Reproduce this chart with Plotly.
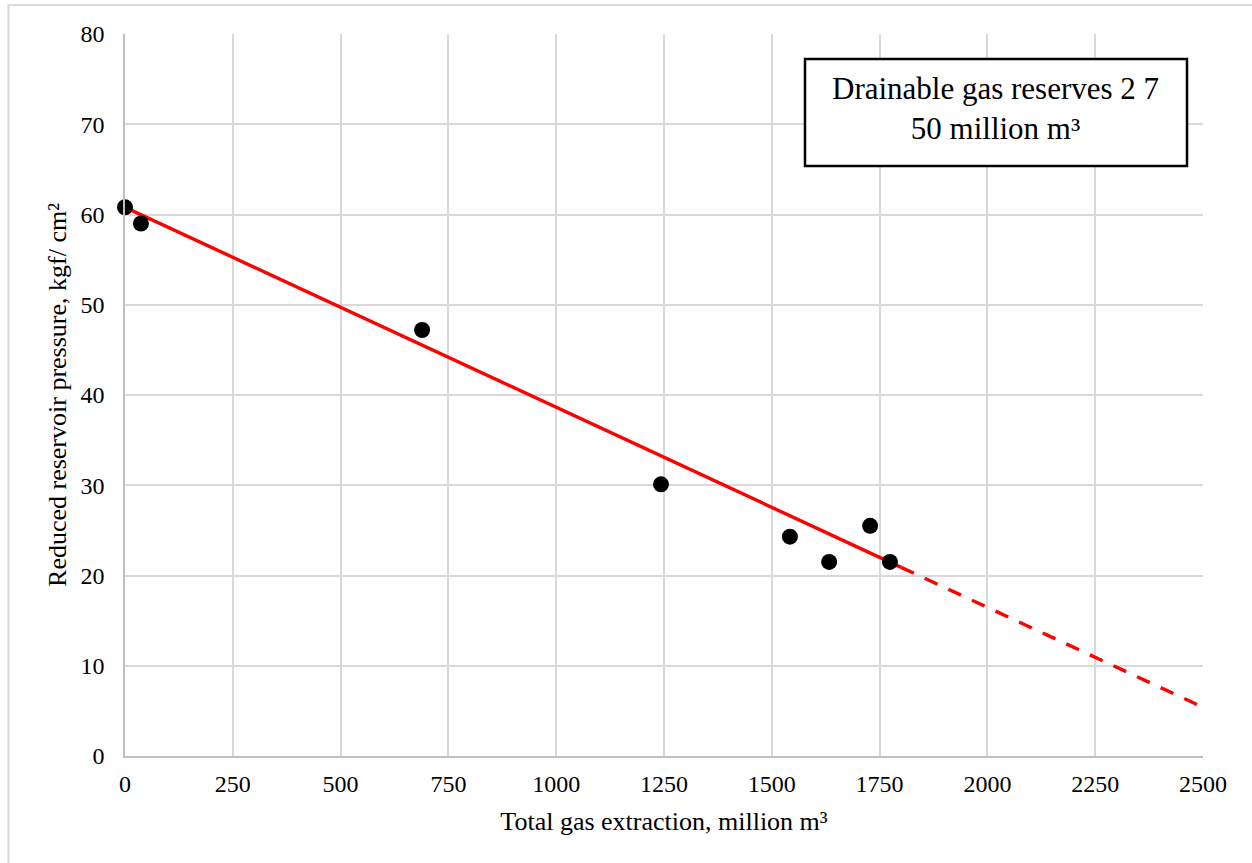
import plotly.graph_objects as go

# Observed data points
extraction = [0, 37, 689, 1243, 1542, 1633, 1728, 1774]
pressure = [60.8, 59.0, 47.2, 30.1, 24.3, 21.5, 25.5, 21.5]

# Trend line (fitted) and extrapolation endpoints
fit_x = [0, 1800]
fit_y = [60.8, 20.9]
extrap_x = [1800, 2500]
extrap_y = [20.9, 5.4]

x_ticks = [0, 250, 500, 750, 1000, 1250, 1500, 1750, 2000, 2250, 2500]
y_ticks = [0, 10, 20, 30, 40, 50, 60, 70, 80]

box_text = "Drainable gas reserves 2 7<br>50 million m³"
x_title = "Total gas extraction, million m³"
y_title = "Reduced reservoir pressure, kgf/ cm²"

FONT = "Liberation Serif, Times New Roman, serif"
W, H = 1252, 863
L, R, T, B = 125, 49, 34, 107
PW, PH = W - L - R, H - T - B

def px(x):
    return (x - L) / PW

def py(y):
    return (H - B - y) / PH

fig = go.Figure()
fig.add_trace(go.Scatter(x=fit_x, y=fit_y, mode="lines",
                         line=dict(color="#ff0000", width=3.4), showlegend=False))
fig.add_trace(go.Scatter(x=extrap_x, y=extrap_y, mode="lines",
                         line=dict(color="#ff0000", width=3.4, dash="14px,12px"), showlegend=False))
fig.add_trace(go.Scatter(x=extraction, y=pressure, mode="markers", cliponaxis=False,
                         marker=dict(color="black", size=16), showlegend=False))

fig.update_layout(
    width=W, height=H,
    margin=dict(l=L, r=R, t=T, b=B),
    plot_bgcolor="white", paper_bgcolor="white",
    font=dict(family=FONT, size=24, color="black"),
    xaxis=dict(range=[0, 2500], tickvals=x_ticks, ticktext=[str(v) for v in x_ticks],
               tickfont=dict(size=24),
               showgrid=True, gridcolor="#d9d9d9", gridwidth=1.5,
               showline=True, linecolor="#bfbfbf", linewidth=1.5,
               ticks="outside", ticklen=5, tickcolor="rgba(0,0,0,0)",
               zeroline=False,
               title=dict(text=x_title, font=dict(size=26), standoff=16)),
    yaxis=dict(range=[0, 80], tickvals=y_ticks, ticktext=[str(v) for v in y_ticks],
               tickfont=dict(size=24),
               showgrid=True, gridcolor="#d9d9d9", gridwidth=1.5,
               showline=True, linecolor="#bfbfbf", linewidth=1.5,
               ticks="outside", ticklen=14, tickcolor="rgba(0,0,0,0)",
               zeroline=False,
               title=dict(text=y_title, font=dict(size=26), standoff=6)),
)

# Outer chart border (top and left visible)
fig.add_shape(type="rect", xref="paper", yref="paper",
              x0=px(8.5), x1=px(1300), y0=py(900), y1=py(5),
              line=dict(color="#d9d9d9", width=2), layer="below")

# Annotation box
fig.add_shape(type="rect", xref="paper", yref="paper",
              x0=px(805), x1=px(1187), y0=py(166), y1=py(59),
              line=dict(color="black", width=2.5), fillcolor="white")
fig.add_annotation(xref="paper", yref="paper",
                   x=px(995), y=py(108),
                   text=box_text, showarrow=False,
                   font=dict(family=FONT, size=31, color="black"),
                   align="center", xanchor="center", yanchor="middle")

fig.write_html("out.html", config={"displayModeBar": False},
               post_script="document.body.style.margin='0';")
